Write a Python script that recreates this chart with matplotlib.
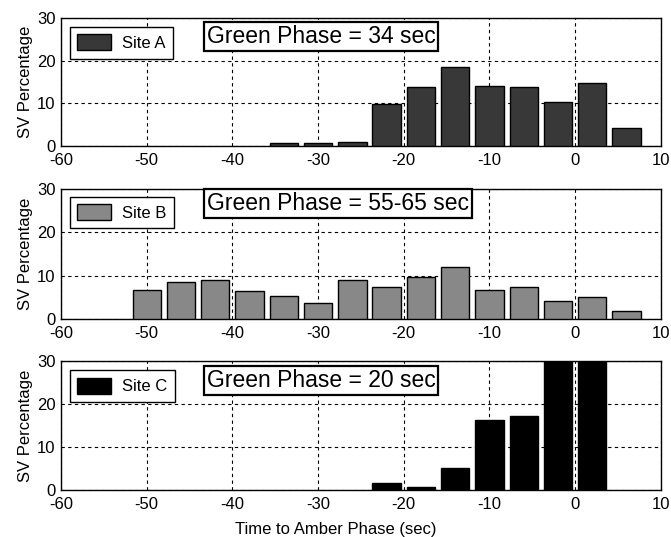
import numpy as np
from matplotlib import pyplot as plt
from matplotlib.patches import Patch

# bin centres (sec before amber) and SV percentages per site
centres_a = [-34, -30, -26, -22, -18, -14, -10, -6, -2, 2, 6]
values_a = [0.6, 0.6, 0.9, 9.9, 13.8, 18.4, 14.1, 13.8, 10.3, 14.8, 4.2]

centres_b = [-50, -46, -42, -38, -34, -30, -26, -22, -18, -14, -10, -6, -2, 2, 6]
values_b = [6.7, 8.6, 8.9, 6.4, 5.4, 3.8, 8.9, 7.3, 9.6, 11.9, 6.7, 7.3, 4.1, 5.1, 1.9]

centres_c = [-22, -18, -14, -10, -6, -2, 2]
values_c = [1.6, 0.7, 5.2, 16.3, 17.2, 35.0, 33.0]  # last two run off the top

sites = ["Site A", "Site B", "Site C"]
green = ["Green Phase = 34 sec", "Green Phase = 55-65 sec", "Green Phase = 20 sec"]
colours = ["#383838", "#888888", "#000000"]

plt.rcParams['font.family'] = ['Liberation Sans', 'DejaVu Sans']
plt.rcParams['axes.unicode_minus'] = False

fig = plt.figure(figsize=(6.71, 5.37), dpi=100)
boxes = [[0.0909, 0.7281, 0.894, 0.2384],
         [0.0909, 0.4060, 0.894, 0.2420],
         [0.0909, 0.0875, 0.894, 0.2402]]
txt_y = [0.855, 0.89, 0.85]
leg_y = [0.93, 0.94, 0.93]

data = [(centres_a, values_a), (centres_b, values_b), (centres_c, values_c)]
for i, (x, y) in enumerate(data):
    ax = fig.add_axes(boxes[i])
    ax.bar(x, y, width=3.3, color=colours[i], edgecolor="black", linewidth=1, zorder=3)
    ax.set_xlim(-60, 10)
    ax.set_ylim(0, 30)
    ax.set_xticks(np.arange(-60, 11, 10))
    ax.set_yticks([0, 10, 20, 30])
    ax.grid(True, color="black", linestyle=(0, (3, 3)), linewidth=0.8, zorder=1)
    ax.tick_params(labelsize=12, direction="in", length=0)
    ax.tick_params(axis="x", pad=5)
    ax.tick_params(axis="y", pad=4)
    ax.set_ylabel("SV Percentage", fontsize=12, labelpad=3)
    for s in ax.spines.values():
        s.set_linewidth(1)
    ax.text(0.243, txt_y[i], green[i], transform=ax.transAxes, fontsize=16.5,
            va="center", ha="left", zorder=5,
            bbox=dict(facecolor="white", edgecolor="black", linewidth=1.6, boxstyle="square,pad=0.12"))
    leg = ax.legend(handles=[Patch(facecolor=colours[i], edgecolor="black", label=sites[i])],
                    loc="upper left", bbox_to_anchor=(0.015, leg_y[i]), fontsize=12,
                    fancybox=False, framealpha=1, edgecolor="black", borderaxespad=0,
                    handlelength=2.0, handleheight=1.1, borderpad=0.45, handletextpad=0.7)
    leg.get_frame().set_linewidth(1)
    leg.set_zorder(5)

ax.set_xlabel("Time to Amber Phase (sec)", fontsize=12, labelpad=6)
ax.xaxis.set_label_coords(0.458, -0.25)

fig.savefig("out.png", dpi=100)
